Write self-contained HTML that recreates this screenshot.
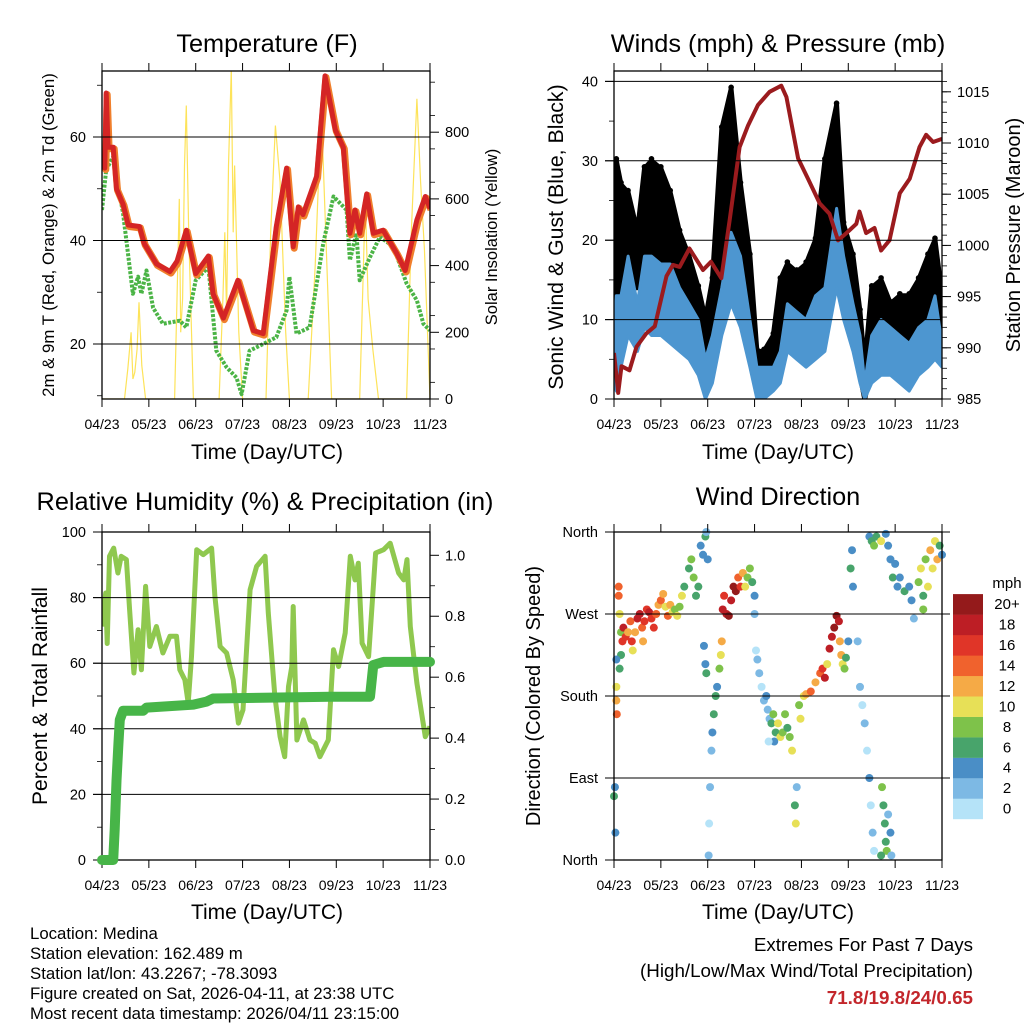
<!DOCTYPE html>
<html><head><meta charset="utf-8"><style>
html,body{margin:0;padding:0;background:#fff;}
svg text{font-family:"Liberation Sans",sans-serif;fill:#000;}
</style></head><body>
<svg id="chart" width="1024" height="1024" viewBox="0 0 1024 1024" xmlns="http://www.w3.org/2000/svg">
<g id="layer"></g>
<text x="267" y="52" font-size="25.3" text-anchor="middle">Temperature (F)</text>
<text x="778" y="52" font-size="25.3" text-anchor="middle">Winds (mph) &amp; Pressure (mb)</text>
<text x="265" y="510" font-size="25.3" text-anchor="middle">Relative Humidity (%) &amp; Precipitation (in)</text>
<text x="778" y="505" font-size="25.3" text-anchor="middle">Wind Direction</text>
<text x="267" y="459" font-size="21" text-anchor="middle">Time (Day/UTC)</text>
<text x="778" y="459" font-size="21" text-anchor="middle">Time (Day/UTC)</text>
<text x="267" y="919" font-size="21" text-anchor="middle">Time (Day/UTC)</text>
<text x="778" y="919" font-size="21" text-anchor="middle">Time (Day/UTC)</text>
<text transform="translate(54,235) rotate(-90)" font-size="16.8" text-anchor="middle">2m &amp; 9m T (Red, Orange) &amp; 2m Td (Green)</text>
<text transform="translate(497,237) rotate(-90)" font-size="16.5" text-anchor="middle">Solar Insolation (Yellow)</text>
<text transform="translate(563,237) rotate(-90)" font-size="21.3" text-anchor="middle">Sonic Wind &amp; Gust (Blue, Black)</text>
<text transform="translate(1020,235) rotate(-90)" font-size="20" text-anchor="middle">Station Pressure (Maroon)</text>
<text transform="translate(47,696) rotate(-90)" font-size="21" text-anchor="middle">Percent &amp; Total Rainfall</text>
<text transform="translate(540,696) rotate(-90)" font-size="20" text-anchor="middle">Direction (Colored By Speed)</text>
<g font-size="16.8">
<text x="30" y="939">Location: Medina</text>
<text x="30" y="959">Station elevation: 162.489 m</text>
<text x="30" y="979">Station lat/lon: 43.2267; -78.3093</text>
<text x="30" y="999">Figure created on Sat, 2026-04-11, at 23:38 UTC</text>
<text x="30" y="1019">Most recent data timestamp: 2026/04/11 23:15:00</text>
</g>
<g font-size="18.8" text-anchor="end">
<text x="973" y="951">Extremes For Past 7 Days</text>
<text x="973" y="977">(High/Low/Max Wind/Total Precipitation)</text>
<text x="973" y="1004" font-weight="bold" style="fill:#c3262b">71.8/19.8/24/0.65</text>
</g>
</svg>
<script>
// ---- data (x = months since 04/23) ----
const monthLabels=["04/23","05/23","06/23","07/23","08/23","09/23","10/23","11/23"];
const tempX=[0,0.06,0.09,0.13,0.24,0.31,0.45,0.56,0.8,0.9,1.16,1.45,1.6,1.8,2.0,2.27,2.37,2.59,2.9,3.23,3.44,3.72,3.94,4.08,4.19,4.29,4.58,4.76,4.98,5.15,5.29,5.4,5.5,5.65,5.79,6.0,6.29,6.47,6.72,6.9,7.0];
const tempRed=[55,54,68.5,58,58,50,47,43,42.7,39.4,35.5,34,36,42,33.6,37,29.7,25,32.3,22.6,22,42.7,54,38.8,46.5,45,52.4,71.8,61.4,58,41.4,45.9,41.4,49,41.4,42,37.5,34.2,44,48.5,46.2];
const dewX=[0,0.09,0.24,0.45,0.66,0.77,0.84,0.95,1.09,1.3,1.66,1.8,2.0,2.27,2.44,2.66,2.87,2.98,3.15,3.44,3.72,3.94,4.0,4.15,4.43,4.72,4.94,5.22,5.29,5.43,5.5,5.72,5.93,6.22,6.5,6.72,6.86,7.0];
const dewVals=[45.9,53.7,56.2,45.2,29.7,33,29.7,34.2,27,23.9,24.5,23.2,32.3,34.9,18.7,15.5,13.5,10.3,18.7,20,21.3,26.5,33,22,23.2,39.4,48.5,45.9,36.2,41.4,32.3,36.8,40.7,38.8,31.7,28.4,23.9,22.6];
const solarX=[0,0.48,0.55,0.62,0.66,0.7,0.75,0.79,0.85,0.93,1.55,1.6,1.65,1.68,1.72,1.76,1.8,1.85,1.95,2.5,2.58,2.62,2.66,2.7,2.76,2.8,2.83,2.92,3.0,3.5,3.6,3.7,3.8,3.92,4.0,4.4,4.55,4.68,4.8,4.9,5.5,5.62,5.68,5.78,5.9,6.5,6.6,6.66,6.72,6.8,6.88,7.0];
const solarVals=[0,0,90,200,60,80,150,290,100,0,0,300,600,200,300,700,880,500,0,0,300,500,250,700,990,500,700,200,0,0,500,820,650,200,0,0,400,870,400,0,0,600,300,150,0,0,500,700,900,650,450,0];
const windX=[0,0.05,0.15,0.3,0.5,0.65,0.8,1.0,1.2,1.4,1.6,1.8,1.95,2.1,2.3,2.5,2.7,2.9,3.05,3.2,3.4,3.55,3.7,3.9,4.1,4.3,4.5,4.75,4.9,5.1,5.25,5.35,5.5,5.7,5.9,6.1,6.3,6.5,6.7,6.85,7.0];
const sustHigh=[8,13,13,18,12,18,18,17,17,14,12,10,5,8,14,21,18,10,4,4,4,6,12,11,10,13,14,24,18,12,8,2,8,10,9,8,7,9,10,13,7];
const sustLow=[2,1,4,8,6,9,8,8,7,6,5,3,0,2,8,12,9,4,0,0,1,2,6,5,4,5,6,14,10,6,2,0,2,3,3,2,1,3,4,5,4];
const gustHigh=[12,30,27,26,21,29,30,29,26,21,18,14,10,15,34,39,27,18,6,6,8,15,17,16,17,20,30,37,22,18,11,4,14,15,12,13,13,15,18,20,13];
const gustLow=[2,5,10,14,14,17,18,16,14,10,8,5,1,4,13,20,12,8,1,1,2,5,10,8,8,9,12,20,13,8,3,0,4,6,5,4,3,6,8,9,6];
const presX=[0,0.09,0.16,0.33,0.48,0.69,0.87,1.12,1.26,1.4,1.61,1.9,2.07,2.29,2.47,2.68,2.86,3.07,3.32,3.57,3.68,3.93,4.14,4.39,4.6,4.78,4.96,5.17,5.24,5.38,5.56,5.7,5.88,6.1,6.31,6.52,6.66,6.81,7.0];
const presVals=[989.5,985.6,988.2,987.8,990.1,991.4,992.1,997,998.1,997.9,999.7,997.6,998.4,996.8,1002.5,1009.6,1011.7,1013.7,1015,1015.6,1014.5,1008.5,1006.5,1004.1,1003.1,1000.5,1001.2,1002.1,1003.3,1001.2,1001.7,999.5,1000.5,1005.1,1006.5,1009.6,1010.8,1010.1,1010.4];
const rhX=[0,0.08,0.11,0.16,0.25,0.34,0.41,0.52,0.59,0.68,0.77,0.84,0.93,1.02,1.16,1.3,1.45,1.59,1.66,1.77,1.84,1.91,2.02,2.16,2.34,2.41,2.52,2.66,2.8,2.91,3.01,3.16,3.3,3.48,3.55,3.69,3.8,3.9,3.98,4.05,4.08,4.16,4.3,4.44,4.55,4.65,4.83,4.94,5.05,5.19,5.3,5.4,5.47,5.55,5.69,5.84,6.01,6.15,6.33,6.44,6.51,6.58,6.72,6.9,7.0];
const rhVals=[71.2,81.4,66,92.6,95.1,87.5,92.6,91.6,76.3,57,70.2,58,83.4,65.1,71.2,63.1,68.2,68.2,58,54.9,47.8,62,94.6,93.1,95.1,80.4,65.1,63.1,54.9,41.7,45.8,82.4,89.5,92.6,75.3,49.8,37.6,31.5,52.9,59,77.3,36.6,42.7,36.6,35.6,31.5,36.6,64.1,59,69.2,92.6,85.4,90.5,66.1,62,93.6,94.6,96.6,87.5,85.4,91.6,71.2,53.9,37.6,40.7];
const precipX=[0,0.24,0.27,0.31,0.35,0.38,0.45,0.88,0.95,1.95,2.23,2.37,4.87,5.72,5.79,6.01,7.0];
const precipVals=[0,0,0.1,0.26,0.38,0.46,0.49,0.49,0.50,0.51,0.52,0.53,0.536,0.536,0.64,0.65,0.65];
const dirX=[0.1,0.12,0.15,0.18,0.2,0.25,0.3,0.35,0.38,0.4,0.45,0.5,0.55,0.6,0.62,0.65,0.7,0.75,0.8,0.85,0.9,0.95,1.0,1.05,1.1,1.15,1.2,1.25,1.3,1.35,1.4,1.45,1.5,1.6,1.65,1.7,1.75,1.8,1.85,1.9,1.95,2.0,1.97,0.15,0.12,0.05,0.0,0.02,0.03,0.05,0.05,0.06,0.1,1.92,1.95,1.97,2.02,2.03,2.05,2.08,2.1,2.13,2.17,2.2,2.25,2.28,2.3,2.32,2.35,2.4,2.45,2.5,2.55,2.6,2.65,2.7,2.75,2.8,2.85,2.9,2.95,3.0,3.0,3.03,3.06,3.1,3.15,3.2,3.25,3.28,3.32,3.36,3.4,3.45,3.5,3.55,3.6,3.65,3.7,3.75,3.8,3.42,3.3,3.86,3.88,3.9,3.95,3.98,4.05,4.1,4.2,4.3,4.4,4.45,4.5,4.55,4.6,4.65,4.7,4.75,4.8,4.82,4.85,4.88,4.92,4.95,5.0,5.05,5.08,5.1,5.2,5.25,5.3,5.35,5.4,5.45,5.48,5.52,5.55,5.45,5.5,5.55,5.6,5.7,5.8,5.85,5.9,5.95,6.0,6.05,6.1,6.2,6.3,6.35,6.4,5.72,5.75,5.78,5.8,5.82,5.85,5.9,5.92,5.7,6.5,6.55,6.6,6.65,6.7,6.75,6.8,6.85,6.9,6.95,7.0,6.6];
const dirDeg=[290,270,250,240,255,245,250,262,240,230,250,265,270,255,240,262,275,272,265,255,270,280,285,292,278,268,280,272,275,268,278,290,300,320,330,310,290,300,345,335,355,330,360,225,210,220,70,80,30,175,190,160,300,235,215,205,5,40,80,120,140,160,180,190,210,225,240,275,290,270,268,285,300,295,310,300,315,300,310,320,305,290,270,230,220,205,190,175,180,165,155,150,160,140,150,135,140,160,145,135,120,130,130,60,40,80,170,155,180,182,185,195,205,210,200,215,232,245,255,268,262,240,225,215,210,222,240,320,340,300,240,190,170,150,120,90,60,30,10,355,350,345,355,350,358,345,330,310,325,300,310,295,300,285,265,80,60,40,20,10,50,30,5,5,305,320,290,330,300,340,320,350,330,345,335,275];
const dirSpd=[14,10,8,16,18,17,12,14,16,10,12,18,18,14,12,16,16,19,16,17,14,12,14,12,10,14,12,10,8,10,8,10,6,7,8,9,6,7,5,4,6,4,3,6,6,4,6,4,4,12,10,14,14,4,4,6,2,1,2,2,4,6,6,4,8,10,12,18,16,19,20,19,20,20,14,16,12,10,8,8,6,4,2,1,2,2,1,2,4,3,2,6,8,6,10,10,8,8,6,8,10,4,1,6,10,2,8,10,10,12,14,12,14,16,18,10,18,19,20,20,18,12,12,10,8,6,4,6,4,4,2,2,1,2,1,4,1,2,1,4,6,8,6,10,4,4,4,6,4,4,4,6,4,4,2,8,6,6,6,8,2,4,2,6,8,10,6,8,10,12,10,10,12,6,4,8];
const speedLabels=["0","2","4","6","8","10","12","14","16","18","20+"];
const speedColors=["#b5e3f8","#7db9e4","#4a8ec6","#48a46b","#7ec24a","#e7e057","#f5aa46","#f0622d","#e03528","#bd1e25","#941a1b"];
const tempTicksL=[20,40,60];const tempTicksR=[0,200,400,600,800];
const windTicksL=[0,10,20,30,40];const presTicks=[985,990,995,1000,1005,1010,1015];
const rhTicks=[0,20,40,60,80,100];const prTicks=[0,0.2,0.4,0.6,0.8,1.0];
const dirTicks=[0,90,180,270,360];const dirLabels=["North","East","South","West","North"];

// ---- helpers ----
const NS="http://www.w3.org/2000/svg";
const layer=document.getElementById('layer');
function mk(tag,attrs,parent){const e=document.createElementNS(NS,tag);for(const k in attrs)e.setAttribute(k,attrs[k]);(parent||layer).appendChild(e);return e;}
function panel(x0,x1,y0,y1){return {x0,x1,y0,y1,x:m=>x0+m*(x1-x0)/7};}
const P1=panel(102,430,71,399),P2=panel(614,942,71,399),P3=panel(102,430,532,860),P4=panel(614,942,532,860);
const yT=v=>344-(v-20)*5.175, ySol=v=>399-v*0.3335;
const yW=v=>399-v*7.94, yP=v=>399-(v-985)*10.24;
const yRH=v=>860-v*3.28, yPr=v=>860-v*304.7;
const yD=v=>860-v*(328/360);
function pathFrom(P,xs,ys,fy){return xs.map((m,i)=>(i?'L':'M')+P.x(m).toFixed(1)+','+fy(ys[i]).toFixed(1)).join('');}
const defs=mk('defs',{});
function clipIn(id,P){const c=document.createElementNS(NS,'clipPath');c.setAttribute('id',id);const r=document.createElementNS(NS,'rect');r.setAttribute('x',P.x0);r.setAttribute('y',P.y0);r.setAttribute('width',P.x1-P.x0);r.setAttribute('height',P.y1-P.y0);c.appendChild(r);defs.appendChild(c);}
clipIn('c1',P1);clipIn('c2',P2);clipIn('c3',P3);clipIn('c4',P4);

function frame(P,name,leftTicks,fyL,leftLab,leftMinor,rightTicks,fyR,rightLab,rightMinor,gridVals,gridExtendR){
  const g=mk('g',{});
  
  
  gridVals.forEach(v=>{const y=fyL(v);const l=mk('line',{x1:P.x0-9,x2:P.x1+(gridExtendR||0),y1:y,y2:y,stroke:'#000','stroke-width':1},g);
    });
  monthLabels.forEach((lab,i)=>{const x=P.x(i);
    mk('line',{x1:x,x2:x,y1:P.y0-8,y2:P.y0,stroke:'#000'},g);
    mk('line',{x1:x,x2:x,y1:P.y1,y2:P.y1+8,stroke:'#000'},g);
    const t=mk('text',{x:x,y:P.y1+30,'font-size':14,'text-anchor':'middle'},g);t.textContent=lab;
    });
  leftMinor.forEach(v=>mk('line',{x1:P.x0-5,x2:P.x0,y1:fyL(v),y2:fyL(v),stroke:'#000','stroke-width':0.8},g));
  leftTicks.forEach((v,i)=>{const y=fyL(v);mk('line',{x1:P.x0-9,x2:P.x0,y1:y,y2:y,stroke:'#000'},g);
    const t=mk('text',{x:P.x0-16,y:y+5,'font-size':14.5,'text-anchor':'end'},g);t.textContent=leftLab[i];
    });
  if(rightTicks){
    rightMinor.forEach(v=>mk('line',{x1:P.x1,x2:P.x1+5,y1:fyR(v),y2:fyR(v),stroke:'#000','stroke-width':0.8},g));
    rightTicks.forEach((v,i)=>{const y=fyR(v);mk('line',{x1:P.x1,x2:P.x1+9,y1:y,y2:y,stroke:'#000'},g);
      const t=mk('text',{x:P.x1+15,y:y+5,'font-size':14.5,'text-anchor':'start'},g);t.textContent=rightLab[i];
      });
  }
  mk('rect',{x:P.x0,y:P.y0,width:P.x1-P.x0,height:P.y1-P.y0,fill:'none',stroke:'#000','stroke-width':1.3},g);
}
function range(a,b,s){const r=[];for(let v=a;v<=b+1e-9;v+=s)r.push(+v.toFixed(3));return r;}

// ---- Panel 1: temperature ----
const g1=mk('g',{'clip-path':'url(#c1)'});


const sol=mk('path',{d:pathFrom(P1,solarX,solarVals,ySol),fill:'none',stroke:'#fde35a','stroke-width':1.2},g1);


const dew=mk('path',{d:pathFrom(P1,dewX,dewVals,yT),fill:'none',stroke:'#4bb446','stroke-width':4,'stroke-dasharray':'3 1.5','stroke-linejoin':'round'},g1);


const ora=mk('path',{d:pathFrom(P1,tempX,tempRed,yT),fill:'none',stroke:'#f07f2c','stroke-width':7,'stroke-linejoin':'round',transform:'translate(1,1.5)'},g1);


const red=mk('path',{d:pathFrom(P1,tempX,tempRed,yT),fill:'none',stroke:'#d42525','stroke-width':5,'stroke-linejoin':'round'},g1);


frame(P1,'temperature',tempTicksL,yT,tempTicksL.map(String),[10,30,50,70],tempTicksR,ySol,tempTicksR.map(String),range(50,950,100),[20,40,60]);

// ---- Panel 2: winds ----
const g2=mk('g',{'clip-path':'url(#c2)'});


function band(P,xs,hi,lo,fy){return pathFrom(P,xs,hi,fy)+xs.slice().reverse().map((m,i)=>'L'+P.x(m).toFixed(1)+','+fy(lo[xs.length-1-i]).toFixed(1)).join('')+'Z';}
const gb=mk('path',{d:band(P2,windX,gustHigh,gustLow,yW),fill:'#000',stroke:'#000','stroke-width':5,'stroke-linejoin':'round'},g2);


windX.forEach((m,i)=>{
  const c=mk('circle',{cx:P2.x(m),cy:yW(gustHigh[i])-2,r:2.8,fill:'#000'},g2);
  
  
});
const sb=mk('path',{d:band(P2,windX,sustHigh,sustLow,yW),fill:'#4d96d0',stroke:'#4d96d0','stroke-width':3,'stroke-linejoin':'round'},g2);


const pr=mk('path',{d:pathFrom(P2,presX,presVals,yP),fill:'none',stroke:'#9b1b1e','stroke-width':4,'stroke-linejoin':'round'},g2);


frame(P2,'winds',windTicksL,yW,windTicksL.map(String),[5,15,25,35],presTicks,yP,presTicks.map(String),range(986,1016,1),[10,20,30,40]);

// ---- Panel 3: humidity ----
const g3=mk('g',{'clip-path':'url(#c3)'});


const rh=mk('path',{d:pathFrom(P3,rhX,rhVals,yRH),fill:'none',stroke:'#8fc84f','stroke-width':5,'stroke-linejoin':'round'},g3);


const g3b=mk('g',{});
const pc=mk('path',{d:pathFrom(P3,precipX,precipVals,yPr),fill:'none',stroke:'#47b548','stroke-width':10,'stroke-linejoin':'round','stroke-linecap':'round'},g3b);


frame(P3,'humidity',rhTicks,yRH,rhTicks.map(String),[10,30,50,70,90],prTicks,yPr,prTicks.map(v=>v.toFixed(1)),range(0.1,1.05,0.1).filter(v=>Math.round(v*10)%2),[20,40,60,80]);
layer.appendChild(g3b);

// ---- Panel 4: wind direction ----
const g4=mk('g',{});


frame(P4,'direction',dirTicks,yD,dirLabels,[],null,null,null,null,[90,180,270,360],8);
dirX.forEach((m,i)=>{
  const b=Math.max(0,Math.min(10,Math.floor(dirSpd[i]/2)));
  const c=mk('circle',{cx:P4.x(m),cy:yD(dirDeg[i]),r:4,fill:speedColors[b]},g4);
  
  
});
const lg=mk('g',{});


const mt=mk('text',{x:1007,y:588,'font-size':15,'text-anchor':'middle'},lg);mt.textContent='mph';
speedLabels.forEach((lab,i)=>{
  const y=798.6-i*20.45;
  const r=mk('rect',{x:953,y:y,width:30,height:20.6,fill:speedColors[i]},lg);
  
  
  const t=mk('text',{x:1007,y:y+15,'font-size':15,'text-anchor':'middle'},lg);t.textContent=lab;
  
  
});
</script>
</body></html>
